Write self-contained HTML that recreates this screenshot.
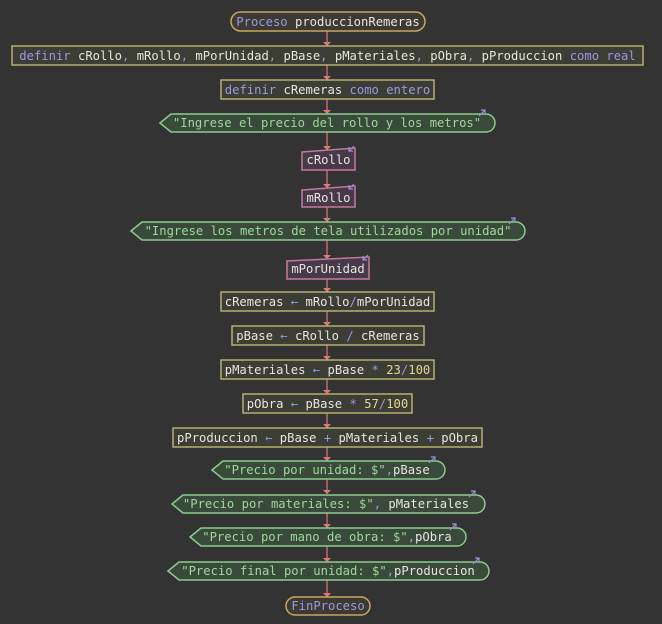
<!DOCTYPE html>
<html><head><meta charset="utf-8"><style>
html,body{margin:0;padding:0;background:#333333;}
svg{display:block;}
text{font-family:"DejaVu Sans Mono","Liberation Mono",monospace;font-size:12.2px;}
.w{fill:#e6e6de}.p{fill:#9c98e2}.g{fill:#9ed89a}.y{fill:#e2d88e}
.proc{fill:#3d3a33;stroke:#c8a860;stroke-width:1.5}
.as{fill:#3c3d35;stroke:#b4b070;stroke-width:1.5}
.out{fill:#394a3b;stroke:#8ccc8c;stroke-width:1.5}
.inp{fill:#48394a;stroke:#c47a9c;stroke-width:1.5}
.ln{stroke:#e07878;stroke-width:1.2}
.ic{stroke:#9a8ed8;stroke-width:1.2;fill:none}
</style></head><body>
<svg width="662" height="624" viewBox="0 0 662 624" xmlns="http://www.w3.org/2000/svg">
<rect width="662" height="624" fill="#333333"/>
<!-- connectors -->
<g class="ln">
<line x1="327" y1="31" x2="327" y2="46"/><line x1="327" y1="65" x2="327" y2="80"/>
<line x1="327" y1="99" x2="327" y2="114"/><line x1="327" y1="132" x2="327" y2="150"/>
<line x1="327" y1="170" x2="327" y2="188"/><line x1="327" y1="207" x2="327" y2="222"/>
<line x1="327" y1="240" x2="327" y2="259"/><line x1="327" y1="279" x2="327" y2="292"/>
<line x1="327" y1="311" x2="327" y2="326"/><line x1="327" y1="345" x2="327" y2="360"/>
<line x1="327" y1="379" x2="327" y2="394"/><line x1="327" y1="413" x2="327" y2="428"/>
<line x1="327" y1="447" x2="327" y2="461"/><line x1="327" y1="479" x2="327" y2="494"/>
<line x1="327" y1="513" x2="327" y2="528"/><line x1="327" y1="546" x2="327" y2="562"/>
<line x1="327" y1="580" x2="327" y2="597"/>
</g>
<g fill="#e07878">
<path d="M323,42h8l-4,4z"/><path d="M323,76h8l-4,4z"/><path d="M323,110h8l-4,4z"/>
<path d="M323,146h8l-4,4z"/><path d="M323,184h8l-4,4z"/><path d="M323,218h8l-4,4z"/>
<path d="M323,255h8l-4,4z"/><path d="M323,288h8l-4,4z"/><path d="M323,322h8l-4,4z"/>
<path d="M323,356h8l-4,4z"/><path d="M323,390h8l-4,4z"/><path d="M323,424h8l-4,4z"/>
<path d="M323,457h8l-4,4z"/><path d="M323,490h8l-4,4z"/><path d="M323,524h8l-4,4z"/>
<path d="M323,558h8l-4,4z"/><path d="M323,593h8l-4,4z"/>
</g>

<!-- Proceso -->
<rect class="proc" x="231" y="12" width="194" height="19" rx="9.5"/>
<text x="328" y="26" text-anchor="middle"><tspan class="p">Proceso</tspan><tspan class="w"> produccionRemeras</tspan></text>

<rect class="as" x="12" y="46" width="631" height="19"/>
<text x="327.5" y="60" text-anchor="middle" class="w"><tspan class="p">definir</tspan> cRollo<tspan class="p">,</tspan> mRollo<tspan class="p">,</tspan> mPorUnidad<tspan class="p">,</tspan> pBase<tspan class="p">,</tspan> pMateriales<tspan class="p">,</tspan> pObra<tspan class="p">,</tspan> pProduccion <tspan class="p">como real</tspan></text>

<rect class="as" x="221" y="80" width="213" height="19"/>
<text x="327.5" y="94" text-anchor="middle" class="w"><tspan class="p">definir</tspan> cRemeras <tspan class="p">como entero</tspan></text>

<path class="out" d="M160,123 L171,114 L486,114 A9,9 0 0 1 486,132 L171,132 Z"/>
<text x="327" y="127" text-anchor="middle" class="g">"Ingrese el precio del rollo y los metros"</text>
<path class="ic" d="M479,116 L485,110 M481,110 H485 V114"/>

<path class="inp" d="M302,152 L355,148 L355,170 L302,170 Z"/>
<text x="328.5" y="164" text-anchor="middle" class="w">cRollo</text>
<path class="ic" d="M349,151 L354,146 M349,147 V151 H353"/>

<path class="inp" d="M302,190 L355,186 L355,207 L302,207 Z"/>
<text x="328.5" y="202" text-anchor="middle" class="w">mRollo</text>
<path class="ic" d="M349,189 L354,184 M349,185 V189 H353"/>

<path class="out" d="M131,231 L142,222 L516,222 A9,9 0 0 1 516,240 L142,240 Z"/>
<text x="328" y="235" text-anchor="middle" class="g">"Ingrese los metros de tela utilizados por unidad"</text>
<path class="ic" d="M509,224 L515,218 M511,218 H515 V222"/>

<path class="inp" d="M287,261 L369,257 L369,279 L287,279 Z"/>
<text x="328" y="273" text-anchor="middle" class="w">mPorUnidad</text>
<path class="ic" d="M363,260 L368,255 M363,256 V260 H367"/>

<rect class="as" x="221" y="292" width="213" height="19"/>
<text x="327.5" y="306" text-anchor="middle" class="w">cRemeras <tspan class="p">←</tspan> mRollo<tspan class="p">/</tspan>mPorUnidad</text>

<rect class="as" x="232" y="326" width="192" height="19"/>
<text x="328" y="340" text-anchor="middle" class="w">pBase <tspan class="p">←</tspan> cRollo <tspan class="p">/</tspan> cRemeras</text>

<rect class="as" x="221" y="360" width="213" height="19"/>
<text x="327.5" y="374" text-anchor="middle" class="w">pMateriales <tspan class="p">←</tspan> pBase <tspan class="p">*</tspan> <tspan class="y">23</tspan><tspan class="p">/</tspan><tspan class="y">100</tspan></text>

<rect class="as" x="243" y="394" width="169" height="19"/>
<text x="327.5" y="408" text-anchor="middle" class="w">pObra <tspan class="p">←</tspan> pBase <tspan class="p">*</tspan> <tspan class="y">57</tspan><tspan class="p">/</tspan><tspan class="y">100</tspan></text>

<rect class="as" x="173" y="428" width="309" height="19"/>
<text x="327.5" y="442" text-anchor="middle" class="w">pProduccion <tspan class="p">←</tspan> pBase <tspan class="p">+</tspan> pMateriales <tspan class="p">+</tspan> pObra</text>

<path class="out" d="M212,470 L223,461 L436,461 A9,9 0 0 1 436,479 L223,479 Z"/>
<text x="327" y="474" text-anchor="middle"><tspan class="g">"Precio por unidad: $"</tspan><tspan class="p">,</tspan><tspan class="w">pBase</tspan></text>
<path class="ic" d="M429,463 L435,457 M431,457 H435 V461"/>

<path class="out" d="M172,504 L183,495 L476,495 A9,9 0 0 1 476,513 L183,513 Z"/>
<text x="326" y="508" text-anchor="middle"><tspan class="g">"Precio por materiales: $"</tspan><tspan class="p">,</tspan><tspan class="w"> pMateriales</tspan></text>
<path class="ic" d="M469,497 L475,491 M471,491 H475 V495"/>

<path class="out" d="M190,537 L201,528 L457,528 A9,9 0 0 1 457,546 L201,546 Z"/>
<text x="327" y="541" text-anchor="middle"><tspan class="g">"Precio por mano de obra: $"</tspan><tspan class="p">,</tspan><tspan class="w">pObra</tspan></text>
<path class="ic" d="M450,530 L456,524 M452,524 H456 V528"/>

<path class="out" d="M168,571 L179,562 L480,562 A9,9 0 0 1 480,580 L179,580 Z"/>
<text x="328" y="575" text-anchor="middle"><tspan class="g">"Precio final por unidad: $"</tspan><tspan class="p">,</tspan><tspan class="w">pProduccion</tspan></text>
<path class="ic" d="M473,564 L479,558 M475,558 H479 V562"/>

<rect class="proc" x="286" y="597" width="84" height="18" rx="9"/>
<text x="328" y="610" text-anchor="middle" class="p">FinProceso</text>
</svg>
</body></html>
